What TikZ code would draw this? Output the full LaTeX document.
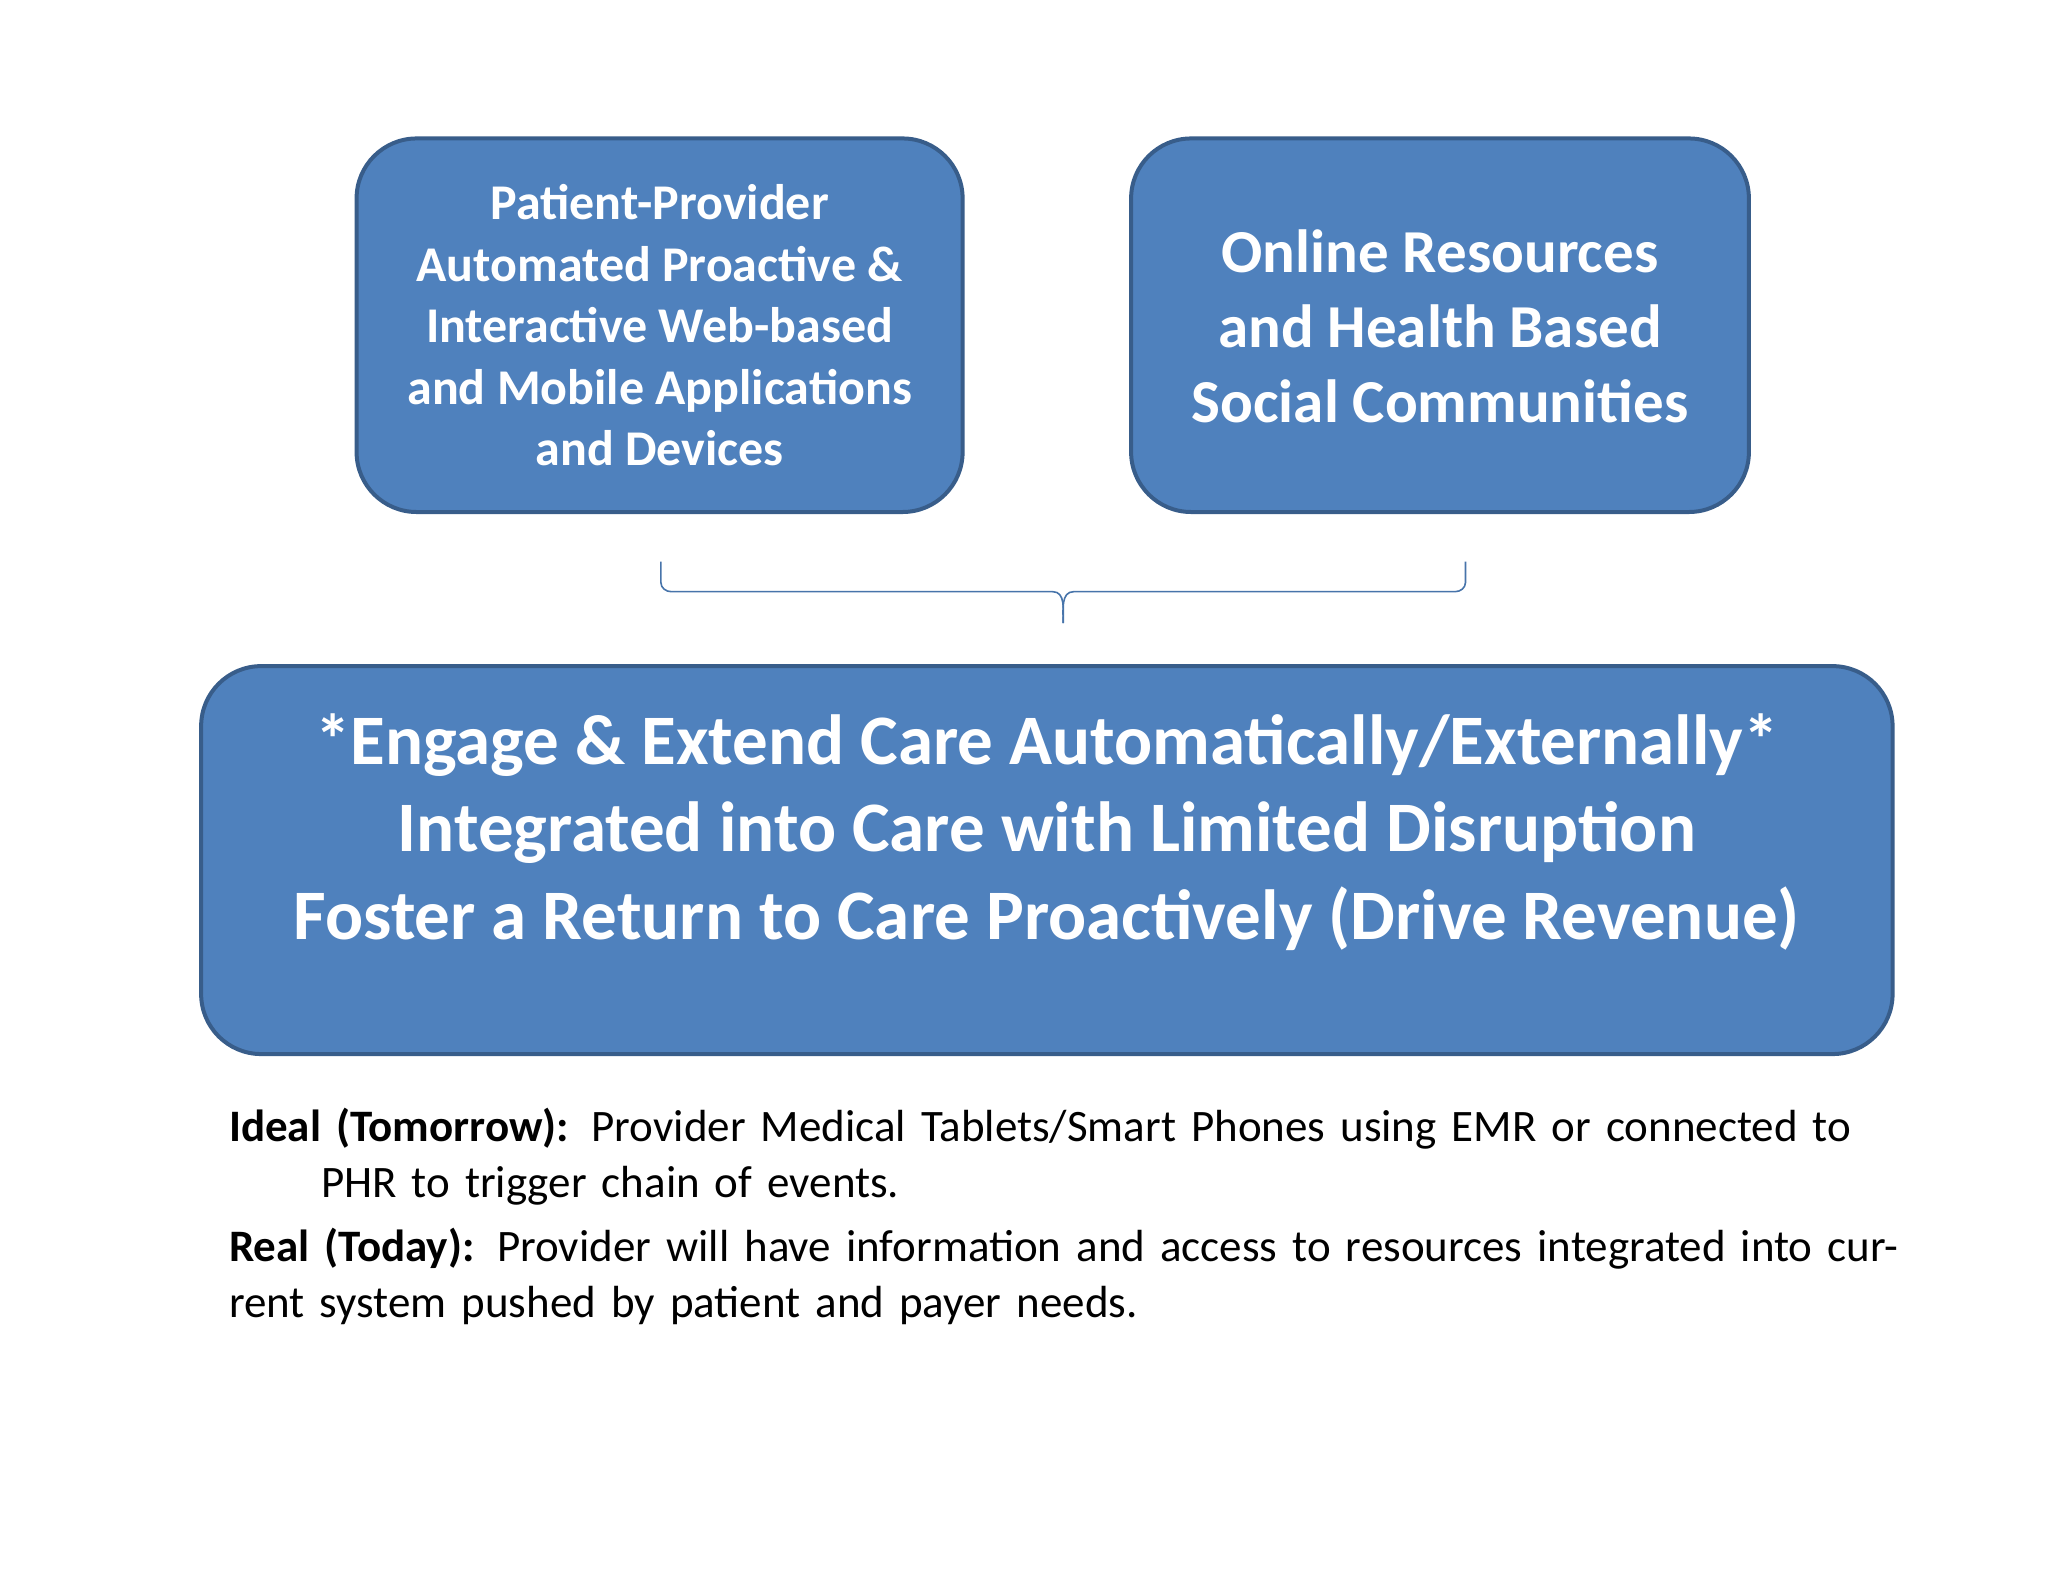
\documentclass[tikz,border=0pt]{standalone}
\usepackage{fontspec}
\setmainfont{Carlito}
\definecolor{boxfill}{HTML}{4F81BD}
\definecolor{boxline}{HTML}{385D8A}
\begin{document}
\begin{tikzpicture}[x=0.653pt,y=-0.653pt,
  bluebox/.style={draw=boxline,fill=boxfill,line width=2pt,rounded corners=30pt,text=white,font=\bfseries,align=center}]
\useasboundingbox[fill=white] (0,0) rectangle (1568,1211);
\node[bluebox,minimum width=464*0.653pt,minimum height=286*0.653pt,font=\bfseries\fontsize{25}{30.7}\selectfont] (b1) at (505,249)
 {Patient-Provider\\Automated Proactive \&\\Interactive Web-based\\and Mobile Applications\\and Devices};
\node[bluebox,minimum width=473*0.653pt,minimum height=286*0.653pt] (b2) at (1102.5,249) {};
\node[text=white,font=\bfseries\fontsize{30.5}{37.5}\selectfont,align=center] (t2) at (1102.5,250)
 {Online Resources\\and Health Based\\Social Communities};
\node[bluebox,minimum width=1295*0.653pt,minimum height=297*0.653pt] (b3) at (801.5,658.5) {};
\node[text=white,font=\bfseries\fontsize{35.5}{43.8}\selectfont,align=center] (t3) at (801.5,637)
 {*Engage \& Extend Care Automatically/Externally*\\Integrated into Care with Limited Disruption\\Foster a Return to Care Proactively (Drive Revenue)};
\coordinate (bl) at (506,430);
\coordinate (br) at (1122,430);
\coordinate (bm) at (814,477);
\draw[boxfill!90!black,line width=0.8pt] (bl) -- (506,446) to[out=-90,in=180] (514,453) -- (806,453) to[out=0,in=90] (bm);
\draw[boxfill!90!black,line width=0.8pt] (br) -- (1122,446) to[out=-90,in=0] (1114,453) -- (822,453) to[out=180,in=90] (bm);
\node[anchor=north west,text width=1300*0.653pt,align=left,font=\fontsize{22.5}{28}\selectfont] (txt) at (170,843)
 {\hangindent=46pt\textbf{Ideal (Tomorrow):} Provider Medical Tablets/Smart Phones using EMR or connected to PHR to trigger chain of events.\par\vspace{4pt}
 \hangindent=46pt\textbf{Real (Today):} Provider will have information and access to resources integrated into current system pushed by patient and payer needs.};
\end{tikzpicture}
\end{document}
